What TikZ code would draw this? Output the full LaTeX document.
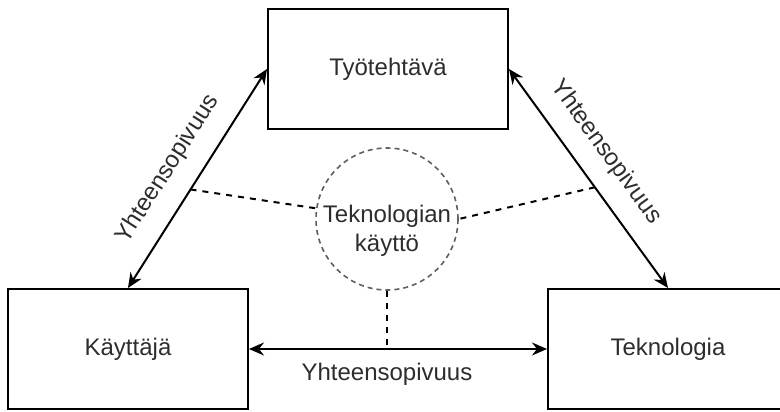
\documentclass[tikz,border=0pt]{standalone}
\usepackage{fontspec}
\setmainfont{Liberation Sans}
\usetikzlibrary{arrows.meta,calc}
\definecolor{txt}{RGB}{45,45,45}
\definecolor{ring}{RGB}{95,95,95}
\begin{document}
\begin{tikzpicture}[x=1pt,y=-1pt,
  txtfont/.style={font=\fontsize{24}{29}\selectfont, text=txt},
  box/.style={draw=black, line width=2pt, minimum width=240pt, minimum height=120pt,
    inner sep=0pt, txtfont},
  link/.style={line width=2pt,
    {Stealth[length=15pt,width=13pt,inset=5pt]}-{Stealth[length=15pt,width=13pt,inset=5pt]}},
  guide/.style={line width=2pt, dash pattern=on 6pt off 6pt},
  lbl/.style={txtfont, inner sep=0pt},
]
\useasboundingbox (0,0) rectangle (780,412);

% the three main elements
\node[box] (T) at (388,69) {Työtehtävä};
\node[box] (L) at (128,349) {Käyttäjä};
\node[box] (R) at (668,349) {Teknologia};

% central dashed circle and its caption
\node[circle, draw=ring, line width=1.6pt, dash pattern=on 5pt off 4pt,
      minimum size=142pt, inner sep=0pt] (C) at (387,219) {};
\node[lbl, align=center] (CT) at (387,231) {Teknologian\\käyttö};

% two-way links between the elements
\draw[link] (T.west) -- (L.north);
\draw[link] (T.east) -- (R.north);
\draw[link] (L.east) -- node[lbl, pos=0.463, below=13pt] (YB) {Yhteensopivuus} (R.west);

% labels along the diagonal links
\node[lbl, rotate=57.5] (YL) at (168,169) {Yhteensopivuus};
\node[lbl, rotate=-54] (YR) at (606,152) {Yhteensopivuus};

% dashed guides from the circle to each link
\coordinate (pl) at ($(T.west)!0.55!(L.north)$);
\coordinate (pr) at ($(T.east)!0.54!(R.north)$);
\draw[guide] (pl) -- (C);
\draw[guide] (pr) -- (C.east);
\draw[guide] (C.south) -- (C.south |- L.east);
\end{tikzpicture}
\end{document}
